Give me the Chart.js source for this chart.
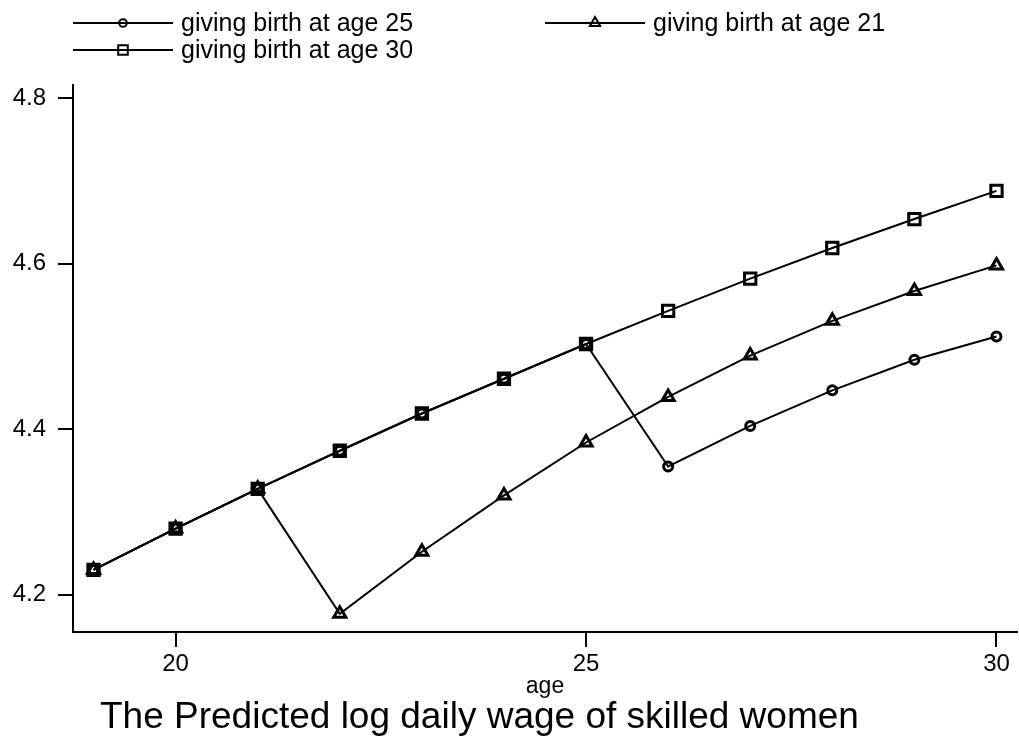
<!DOCTYPE html>
<html>
<head>
<meta charset="utf-8">
<script src="https://cdn.jsdelivr.net/npm/chart.js@4"></script>
<style>
html,body{margin:0;padding:0;background:#fff;}
#wrap{width:1019px;height:742px;}
</style>
</head>
<body>
<div id="wrap"><canvas id="wageChart" width="1019" height="742"></canvas></div>
<script>

/* DATA */

const ages = [19, 20, 21, 22, 23, 24, 25, 26, 27, 28, 29, 30];

const birthAt25 = [4.230, 4.280, 4.328, 4.374, 4.419, 4.461, 4.503, 4.355, 4.404, 4.447, 4.484, 4.512];
const birthAt21 = [4.230, 4.280, 4.328, 4.177, 4.252, 4.320, 4.384, 4.439, 4.489, 4.531, 4.567, 4.598];
const birthAt30 = [4.230, 4.280, 4.328, 4.374, 4.419, 4.461, 4.503, 4.543, 4.582, 4.619, 4.654, 4.688];

const seriesLabels = ["giving birth at age 25", "giving birth at age 21", "giving birth at age 30"];

const xTicks = [20, 25, 30];
const yTicks = [4.2, 4.4, 4.6, 4.8];

const chartTitle = "The Predicted log daily wage of skilled women";
const xTitle = "age";

const FONT = "'Liberation Sans', Arial, Helvetica, sans-serif";

/* HELPERS */

function points(values){
return ages.map((a, i) => ({ x: a, y: values[i] }));
}

function series(label, values, style, radius){
return {
label: label,
data: points(values),
borderColor: "#000",
borderWidth: 2,
pointStyle: style,
pointRadius: radius,
pointBorderWidth: 3,
pointBorderColor: "#000",
pointBackgroundColor: "rgba(0,0,0,0)",
fill: false,
tension: 0
};
}

/* LEGEND + TITLE (drawn like Stata) */

const stataDecor = {
id: "stataDecor",
afterDraw(chart){
const ctx = chart.ctx;
const slots = [
{ x: 73, y: 23 },
{ x: 545, y: 23 },
{ x: 73, y: 50 }
];
ctx.save();
chart.data.datasets.forEach((ds, i) => {
const s = slots[i];
ctx.strokeStyle = "#000";
ctx.lineWidth = 2;
ctx.beginPath();
ctx.moveTo(s.x, s.y);
ctx.lineTo(s.x + 100, s.y);
ctx.stroke();
ctx.fillStyle = "rgba(0,0,0,0)";
Chart.helpers.drawPoint(ctx, {
pointStyle: ds.pointStyle,
radius: ds.pointRadius * 0.85,
borderWidth: 2.2
}, s.x + 50, s.y);
ctx.fillStyle = "#000";
ctx.font = "25px " + FONT;
ctx.textAlign = "left";
ctx.textBaseline = "middle";
ctx.fillText(ds.label, s.x + 108, s.y + 1);
});

ctx.fillStyle = "#000";
ctx.font = "37px " + FONT;
ctx.textAlign = "left";
ctx.textBaseline = "alphabetic";
ctx.fillText(chartTitle, 100, 728);
ctx.restore();
}
};

/* CHART */

const ctx = document.getElementById("wageChart");

const chart = new Chart(ctx, {

type: "line",

data: {
datasets: [
series(seriesLabels[0], birthAt25, "circle", 4.5),
series(seriesLabels[1], birthAt21, "triangle", 7),
series(seriesLabels[2], birthAt30, "rect", 8)
]
},

options: {
responsive: false,
animation: false,
layout: {
autoPadding: false,
padding: { top: 85, right: 2, left: 0, bottom: 42 }
},
plugins: {
legend: { display: false },
title: { display: false },
tooltip: { enabled: false }
},
scales: {
x: {
type: "linear",
min: 18.75,
max: 30.25,
afterBuildTicks(scale){
scale.ticks = xTicks.map(v => ({ value: v }));
},
afterFit(scale){
scale.height = 68;
scale.paddingLeft = 0;
scale.paddingRight = 0;
},
grid: {
drawOnChartArea: false,
drawTicks: true,
tickLength: 15,
color: "#000",
lineWidth: 2
},
border: { display: true, color: "#000", width: 2 },
ticks: {
color: "#000",
font: { family: FONT, size: 24 },
padding: 3,
maxRotation: 0
},
title: {
display: true,
text: xTitle,
color: "#000",
font: { family: FONT, size: 23 },
padding: { top: 0, bottom: 0 }
}
},
y: {
type: "linear",
min: 4.155,
max: 4.816,
afterBuildTicks(scale){
scale.ticks = yTicks.map(v => ({ value: v }));
},
afterFit(scale){
scale.width = 73;
scale.paddingTop = 0;
scale.paddingBottom = 0;
},
grid: {
drawOnChartArea: false,
drawTicks: true,
tickLength: 15,
color: "#000",
lineWidth: 2
},
border: { display: true, color: "#000", width: 2 },
ticks: {
color: "#000",
font: { family: FONT, size: 24 },
padding: 12,
callback: v => v.toFixed(1)
}
}
}
},

plugins: [stataDecor]

});

</script>
</body>
</html>
